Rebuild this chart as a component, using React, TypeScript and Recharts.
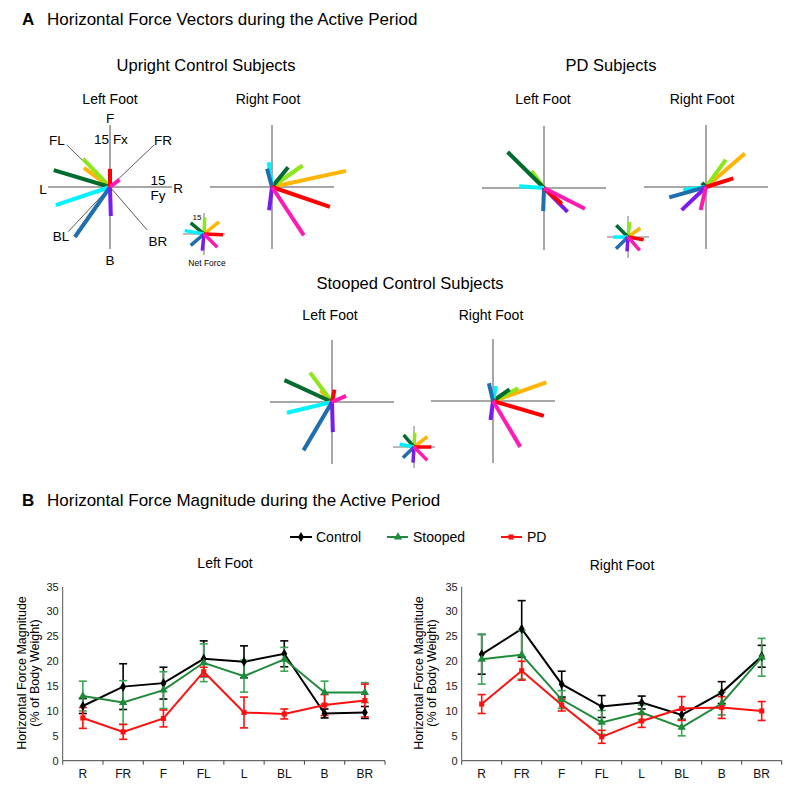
import React from 'react';
import { ScatterChart, Scatter, XAxis, YAxis, LineChart, Line, ErrorBar, Symbols } from 'recharts';

const FONT = '"Liberation Sans", Arial, Helvetica, sans-serif';

// ---------- Part A data (horizontal force vectors, % body weight) ----------
const directions = ['R', 'FR', 'F', 'FL', 'L', 'BL', 'B', 'BR'];
const dirColors = ['#ff0000', '#ffb400', '#8ce619', '#006b2e', '#00f2ff', '#1f6fae', '#7a1cf0', '#ff1ab3'];

// H = lateral (right +), V = fore-aft (forward +)
const uprightLeftH = [0, -6.3, -6.5, -13.6, -13.1, -8.5, 0.2, 2.3];
const uprightLeftV = [4.4, 4.6, 6.8, 4.1, -4.4, -12.1, -7.0, 1.8];
const uprightRightH = [14.0, 17.9, 7.4, 3.9, -0.8, -1.2, -0.7, 7.7];
const uprightRightV = [-4.8, 3.9, 5.2, 4.8, 6.0, 4.4, -5.6, -11.7];
const pdLeftH = [4.3, -2.2, -3.0, -8.8, -6.0, -0.2, 5.7, 9.9];
const pdLeftV = [-3.8, 2.7, 4.1, 8.7, 0.4, -5.6, -5.8, -5.0];
const pdRightH = [6.6, 9.4, 4.8, -1.0, -5.5, -8.9, -5.9, -1.3];
const pdRightV = [2.1, 8.1, 6.6, 1.0, -0.7, -2.5, -5.6, -5.6];
const stoopedLeftH = [0.6, -2.8, -5.3, -11.5, -10.9, -6.9, 0.2, 3.4];
const stoopedLeftV = [3.0, 2.8, 7.1, 5.3, -2.6, -11.7, -7.3, 1.5];
const stoopedRightH = [12.3, 12.9, 6.1, 4.0, 0.7, -1.0, -0.6, 6.6];
const stoopedRightV = [-3.6, 4.5, 3.1, 2.8, 3.6, 4.3, -4.6, -11.1];

// Net force stars
const uprightNetH = [13.6, 10.7, 0.5, -9.5, -13.8, -9.5, -1.2, 9.5];
const uprightNetV = [-0.5, 8.6, 11.9, 7.9, 2.4, -8.1, -11.9, -9.5];
const pdNetH = [11.2, 8.8, 1.2, -8.4, -10.7, -8.6, -0.7, 8.4];
const pdNetV = [-1.9, 6.4, 10.7, 8.4, 0, -8.4, -10.2, -9.5];
const stoopedNetH = [12.4, 9.5, 0.5, -7.4, -10.2, -7.9, -0.7, 9.5];
const stoopedNetV = [0, 7.4, 10.2, 8.6, 1.9, -7.6, -11.2, -9.5];

const axisHalf = 15;
const diagH = [-10.5, 10.7, -10.1, 9.0];
const diagV = [10.2, 10.2, -10.8, -10.4];

// ---------- Part B data ----------
const leftControl = [11.0, 14.9, 15.6, 20.5, 19.9, 21.5, 9.5, 9.7];
const leftControlErr = [1.5, 4.6, 3.2, 3.6, 3.2, 2.6, 0.9, 1.2];
const leftStooped = [13.0, 11.7, 14.2, 19.7, 17.0, 20.4, 13.7, 13.7];
const leftStoopedErr = [3.0, 4.4, 3.7, 3.8, 3.2, 2.4, 2.3, 2.0];
const leftPD = [8.6, 5.8, 8.5, 17.9, 9.7, 9.4, 11.2, 12.1];
const leftPDErr = [2.1, 1.5, 1.7, 0.9, 3.1, 1.0, 2.1, 3.3];

const rightControl = [21.4, 26.5, 15.4, 10.9, 11.7, 9.2, 13.7, 21.0];
const rightControlErr = [4.0, 5.7, 2.6, 2.2, 1.3, 1.0, 2.2, 2.2];
const rightStooped = [20.4, 21.3, 12.3, 7.7, 9.7, 6.7, 11.5, 20.8];
const rightStoopedErr = [5.0, 4.9, 1.8, 2.4, 1.5, 1.7, 2.3, 3.8];
const rightPD = [11.4, 18.1, 11.2, 4.8, 8.0, 10.5, 10.7, 10.0];
const rightPDErr = [1.9, 1.9, 1.2, 1.3, 1.3, 2.4, 2.2, 1.9];

const yTicks = [0, 5, 10, 15, 20, 25, 30, 35];

const COL_CONTROL = '#000000';
const COL_STOOPED = '#1f8a3a';
const COL_STOOPED_ERR = '#3aa655';
const COL_PD = '#ff1010';

const EmptyShape = () => <g />;

function VectorPanel(props: {
  h: number[]; v: number[]; cx: number; cy: number; size: number; pxPerUnit: number;
  width: number; axisColor: string; axisWidth: number; diagonals?: boolean;
}) {
  const { h, v, cx, cy, size, pxPerUnit, width, axisColor, axisWidth, diagonals } = props;
  const span = size / 2 / pxPerUnit;
  const order = [1, 2, 3, 4, 5, 6, 0, 7];
  return (
    <div style={{ position: 'absolute', left: cx - size / 2, top: cy - size / 2, width: size, height: size }}>
      <ScatterChart width={size} height={size} margin={{ top: 0, right: 0, bottom: 0, left: 0 }}>
        <XAxis type="number" dataKey="x" domain={[-span, span]} hide allowDataOverflow />
        <YAxis type="number" dataKey="y" domain={[-span, span]} hide allowDataOverflow />
        <Scatter data={[{ x: -axisHalf, y: 0 }, { x: axisHalf, y: 0 }]} line={{ stroke: axisColor, strokeWidth: axisWidth }} shape={EmptyShape} isAnimationActive={false} />
        <Scatter data={[{ x: 0, y: -axisHalf }, { x: 0, y: axisHalf }]} line={{ stroke: axisColor, strokeWidth: axisWidth }} shape={EmptyShape} isAnimationActive={false} />
        {diagonals &&
          diagH.map((dx, i) => (
            <Scatter key={'d' + i} data={[{ x: 0, y: 0 }, { x: dx, y: diagV[i] }]} line={{ stroke: '#333', strokeWidth: 0.8 }} shape={EmptyShape} isAnimationActive={false} />
          ))}
        {order.map((i) => (
          <Scatter
            key={i}
            data={[{ x: 0, y: 0 }, { x: h[i], y: v[i] }]}
            line={{ stroke: dirColors[i], strokeWidth: width, strokeLinecap: 'butt' }}
            shape={EmptyShape}
            isAnimationActive={false}
          />
        ))}
      </ScatterChart>
    </div>
  );
}

const footPx = 62 / 15;
const starPx = 21 / 15;

function makeRows(c: number[], ce: number[], s: number[], se: number[], p: number[], pe: number[]) {
  return directions.map((d, i) => ({
    x: i + 0.5,
    name: d,
    control: c[i], controlErr: ce[i],
    stooped: s[i], stoopedErr: se[i],
    pd: p[i], pdErr: pe[i],
  }));
}

const diamondDot = (p: any) => <Symbols key={'c' + p.index} cx={p.cx} cy={p.cy} type="diamond" size={30} fill={COL_CONTROL} />;
const triangleDot = (p: any) => <Symbols key={'s' + p.index} cx={p.cx} cy={p.cy} type="triangle" size={30} fill={COL_STOOPED} />;
const squareDot = (p: any) => <Symbols key={'p' + p.index} cx={p.cx} cy={p.cy} type="square" size={26} fill={COL_PD} />;

function ForcePanel(props: { left: number; width: number; ml: number; mr: number; rows: any[] }) {
  const { left, width, ml, mr, rows } = props;
  return (
    <div style={{ position: 'absolute', left, top: 550, width, height: 230 }}>
      <LineChart width={width} height={230} data={rows} margin={{ top: 36.7, right: mr, bottom: 0.3, left: ml }}>
        <XAxis
          xAxisId="b"
          type="number"
          dataKey="x"
          domain={[0, 8]}
          ticks={[0, 1, 2, 3, 4, 5, 6, 7, 8]}
          interval={0}
          tickFormatter={() => ''}
          height={1}
          tickSize={4}
          stroke="#444"
        />
        <XAxis
          xAxisId="l"
          type="number"
          dataKey="x"
          domain={[0, 8]}
          ticks={[0.5, 1.5, 2.5, 3.5, 4.5, 5.5, 6.5, 7.5]}
          interval={0}
          tickFormatter={(v: number) => directions[Math.floor(v)]}
          axisLine={false}
          tickLine={false}
          height={18}
          tickSize={6}
          tickMargin={2}
          tick={{ fontSize: 12, fill: '#111', fontFamily: FONT }}
        />
        <YAxis
          type="number"
          domain={[0, 35]}
          ticks={yTicks}
          interval={0}
          width={30}
          tickLine={false}
          tickSize={0}
          tickMargin={4}
          axisLine={{ stroke: '#555' }}
          tick={{ fontSize: 11, fill: '#222', fontFamily: FONT }}
        />
        <Line xAxisId="b" dataKey="control" stroke={COL_CONTROL} strokeWidth={2} dot={diamondDot} isAnimationActive={false}>
          <ErrorBar dataKey="controlErr" width={4} stroke={COL_CONTROL} strokeWidth={1.6} direction="y" />
        </Line>
        <Line xAxisId="b" dataKey="stooped" stroke={COL_STOOPED} strokeWidth={2} dot={triangleDot} isAnimationActive={false}>
          <ErrorBar dataKey="stoopedErr" width={4} stroke={COL_STOOPED_ERR} strokeWidth={1.6} direction="y" />
        </Line>
        <Line xAxisId="b" dataKey="pd" stroke={COL_PD} strokeWidth={2} dot={squareDot} isAnimationActive={false}>
          <ErrorBar dataKey="pdErr" width={4} stroke={COL_PD} strokeWidth={1.6} direction="y" />
        </Line>
      </LineChart>
    </div>
  );
}

function Overlay() {
  const t = (x: number, y: number, s: string, size: number, anchor: 'start' | 'middle' | 'end' = 'middle', weight = 'normal') => (
    <text x={x} y={y} fontSize={size} textAnchor={anchor} fontWeight={weight} fontFamily={FONT} fill="#000">
      {s}
    </text>
  );
  return (
    <svg width={794} height={792} style={{ position: 'absolute', left: 0, top: 0 }}>
      {t(22, 25, 'A', 17, 'start', 'bold')}
      {t(47, 25, 'Horizontal Force Vectors during the Active Period', 17, 'start')}
      {t(206, 71, 'Upright Control Subjects', 16.5)}
      {t(611, 71, 'PD Subjects', 16.5)}
      {t(110, 104, 'Left Foot', 14)}
      {t(268, 104, 'Right Foot', 14)}
      {t(543, 104, 'Left Foot', 14)}
      {t(702, 104, 'Right Foot', 14)}
      {t(410, 289, 'Stooped Control Subjects', 16.5)}
      {t(330, 320, 'Left Foot', 14)}
      {t(491, 320, 'Right Foot', 14)}
      {/* compass labels */}
      {t(110, 123, 'F', 13.5)}
      {t(111, 144, '15 Fx', 13.5)}
      {t(57, 145, 'FL', 13.5)}
      {t(163, 145, 'FR', 13.5)}
      {t(43, 194, 'L', 13.5)}
      {t(178, 193, 'R', 13.5)}
      {t(158, 185, '15', 13.5)}
      {t(158, 200, 'Fy', 13.5)}
      {t(61, 241, 'BL', 13.5)}
      {t(158, 246, 'BR', 13.5)}
      {t(110, 265, 'B', 13.5)}
      {t(197, 220, '15', 8)}
      {t(207, 266, 'Net Force', 8.5)}
      {/* part B */}
      {t(22, 506, 'B', 17, 'start', 'bold')}
      {t(47, 506, 'Horizontal Force Magnitude during the Active Period', 17, 'start')}
      {/* legend */}
      <line x1={290} y1={537} x2={312} y2={537} stroke={COL_CONTROL} strokeWidth={2} />
      <Symbols cx={301} cy={537} type="diamond" size={30} fill={COL_CONTROL} />
      {t(316, 542, 'Control', 14, 'start')}
      <line x1={387} y1={537} x2={408} y2={537} stroke={COL_STOOPED} strokeWidth={2} />
      <Symbols cx={398} cy={537} type="triangle" size={30} fill={COL_STOOPED} />
      {t(413, 542, 'Stooped', 14, 'start')}
      <line x1={501} y1={537} x2={522} y2={537} stroke={COL_PD} strokeWidth={2} />
      <Symbols cx={511} cy={537} type="square" size={26} fill={COL_PD} />
      {t(527, 542, 'PD', 14, 'start')}
      {t(225, 568, 'Left Foot', 14)}
      {t(622, 570, 'Right Foot', 14)}
      {/* y-axis titles */}
      <g transform="translate(26,673) rotate(-90)">{t(0, 0, 'Horizontal Force Magnitude', 12.5)}</g>
      <g transform="translate(39,673) rotate(-90)">{t(0, 0, '(% of Body Weight)', 12.5)}</g>
      <g transform="translate(423,673) rotate(-90)">{t(0, 0, 'Horizontal Force Magnitude', 12.5)}</g>
      <g transform="translate(436,673) rotate(-90)">{t(0, 0, '(% of Body Weight)', 12.5)}</g>
    </svg>
  );
}

export default function App() {
  const leftRows = makeRows(leftControl, leftControlErr, leftStooped, leftStoopedErr, leftPD, leftPDErr);
  const rightRows = makeRows(rightControl, rightControlErr, rightStooped, rightStoopedErr, rightPD, rightPDErr);
  const foot = { size: 200, pxPerUnit: footPx, width: 4, axisColor: '#8a8a8a', axisWidth: 1.5 };
  const star = { size: 70, pxPerUnit: starPx, width: 3.5, axisColor: '#777', axisWidth: 1 };
  return (
    <div style={{ position: 'absolute', left: 0, top: 0, width: 794, height: 792, background: '#fff', overflow: 'hidden', fontFamily: FONT }}>
      <Overlay />
      <VectorPanel h={uprightLeftH} v={uprightLeftV} cx={110} cy={187} diagonals {...foot} />
      <VectorPanel h={uprightRightH} v={uprightRightV} cx={271.7} cy={187.3} {...foot} />
      <VectorPanel h={pdLeftH} v={pdLeftV} cx={544} cy={187.7} {...foot} />
      <VectorPanel h={pdRightH} v={pdRightV} cx={706} cy={187.3} {...foot} />
      <VectorPanel h={stoopedLeftH} v={stoopedLeftV} cx={331.7} cy={401.7} {...foot} />
      <VectorPanel h={stoopedRightH} v={stoopedRightV} cx={493.3} cy={401} {...foot} />
      <VectorPanel h={uprightNetH} v={uprightNetV} cx={204.3} cy={234.3} {...star} />
      <VectorPanel h={pdNetH} v={pdNetV} cx={627.7} cy={236.7} {...star} />
      <VectorPanel h={stoopedNetH} v={stoopedNetV} cx={414.3} cy={447.3} {...star} />
      <ForcePanel left={0} width={400} ml={32.7} mr={15} rows={leftRows} />
      <ForcePanel left={400} width={394} ml={31.7} mr={12.3} rows={rightRows} />
    </div>
  );
}
